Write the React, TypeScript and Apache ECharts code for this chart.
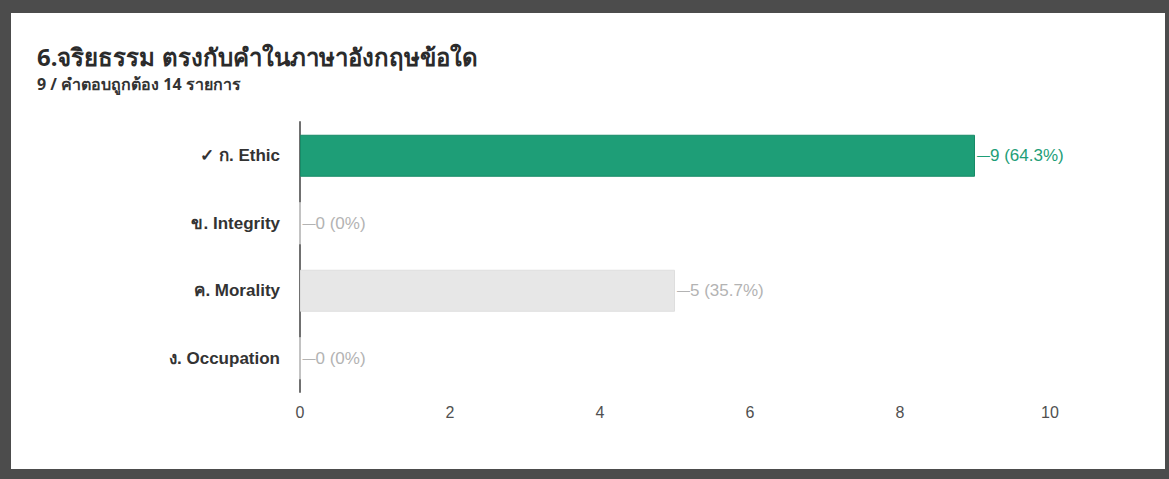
import React, { useEffect, useRef } from "react";
import * as echarts from "echarts";

const titleText = "6.จริยธรรม ตรงกับคำในภาษาอังกฤษข้อใด";
const subtitleText = "9 / คำตอบถูกต้อง 14 รายการ";
const categories = ["✓ ก. Ethic", "ข. Integrity", "ค. Morality", "ง. Occupation"];
const counts = [9, 0, 5, 0];
const percents = ["64.3%", "0%", "35.7%", "0%"];
const correctIndex = 0;
const xTicks = { min: 0, max: 10, interval: 2 };

const GREEN = "#1e9e77";
const GRAY_BAR = "#e7e7e7";
const LABEL_GRAY = "#b3b3b3";

export default function App() {
  const ref = useRef<HTMLDivElement>(null);
  useEffect(() => {
    if (!ref.current) return;
    const chart = echarts.init(ref.current, undefined, { renderer: "svg" });
    const data = counts.map((v, i) => {
      const correct = i === correctIndex;
      const c = correct ? GREEN : LABEL_GRAY;
      return {
        value: v,
        itemStyle: {
          color: correct ? GREEN : GRAY_BAR,
          borderColor: correct ? "#178a67" : "#dedede",
          borderWidth: 1,
        },
        label: {
          rich: {
            d: { color: c, fontSize: 13, fontFamily: "Arial, 'Liberation Sans', sans-serif" },
            t: { color: c, fontSize: 17, fontFamily: "Arial, 'Liberation Sans', sans-serif" },
          },
        },
      };
    });
    chart.setOption({
      animation: false,
      backgroundColor: "#4c4c4c",
      graphic: [
        {
          type: "rect",
          z: -10,
          shape: { x: 11, y: 13, width: 1154, height: 456 },
          style: { fill: "#ffffff" },
          silent: true,
        },
        {
          type: "text",
          left: 37,
          top: 44,
          style: {
            text: titleText,
            fill: "#2b2b2b",
            font: "bold 24px 'Noto Sans', 'DejaVu Sans', sans-serif",
          },
        },
        {
          type: "text",
          left: 37,
          top: 76,
          style: {
            text: subtitleText,
            fill: "#333333",
            font: "bold 16px 'Noto Sans', 'DejaVu Sans', sans-serif",
          },
        },
      ],
      grid: { left: 300, right: 119, top: 122, bottom: 87, containLabel: false },
      xAxis: {
        type: "value",
        min: xTicks.min,
        max: xTicks.max,
        interval: xTicks.interval,
        splitLine: { show: false },
        axisLine: { show: false },
        axisTick: { show: false },
        axisLabel: {
          color: "#505050",
          fontSize: 16,
          margin: 12,
          fontFamily: "Arial, 'Liberation Sans', sans-serif",
        },
      },
      yAxis: {
        type: "category",
        inverse: true,
        data: categories,
        axisLine: { show: true, lineStyle: { color: "#707070", width: 2 } },
        axisTick: { show: false },
        axisLabel: {
          color: "#333",
          fontSize: 17,
          fontWeight: "bold",
          margin: 20,
          fontFamily: "Arial, 'Liberation Sans', 'Noto Sans', sans-serif",
        },
      },
      series: [
        {
          type: "bar",
          data,
          barWidth: 42,
          label: {
            show: true,
            position: "right",
            distance: 2,
            formatter: (p: any) => `{d|—}{t|${counts[p.dataIndex]} (${percents[p.dataIndex]})}`,
          },
        },
      ],
    });
    return () => chart.dispose();
  }, []);
  return (
    <div
      ref={ref}
      style={{ position: "absolute", left: 0, top: 0, width: 1169, height: 479 }}
    />
  );
}
